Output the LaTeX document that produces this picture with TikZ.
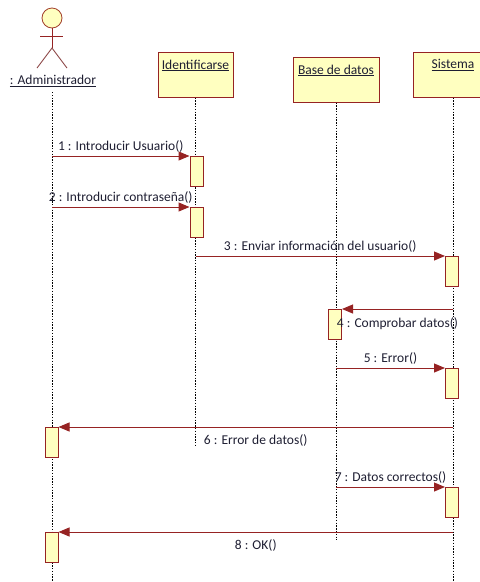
\documentclass[tikz,border=0pt]{standalone}
\usepackage{fontspec}
\setmainfont{Carlito}
\usetikzlibrary{arrows.meta, positioning}
\definecolor{umlfill}{RGB}{255,255,192}
\definecolor{umlred}{RGB}{150,35,35}
\definecolor{umltext}{RGB}{30,30,50}
\tikzset{
	objbox/.style={rectangle, draw=umlred, fill=umlfill, line width=1pt, minimum height=45pt},
	objlabel/.style={anchor=north, inner sep=1pt, text=umltext, font=\fontsize{13.5}{15}\selectfont},
	actbox/.style={rectangle, draw=umlred, fill=umlfill, line width=1pt, minimum width=13pt, minimum height=30pt, anchor=north},
	lifeline/.style={draw=black, line width=1pt, dash pattern=on 1.4pt off 1.4pt},
	msg/.style={draw=umlred, line width=1pt, -{Triangle[length=11pt,width=9pt]}},
	msglabel/.style={inner sep=1pt, text=umltext, font=\fontsize{13.5}{15}\selectfont}
}
\begin{document}
\begin{tikzpicture}[x=1pt, y=-1pt]
		\useasboundingbox (0,0) rectangle (480,582);
		
		%Actor
		\node[circle, draw=umlred!70!brown, fill=umlfill, line width=0.8pt, minimum size=20pt, inner sep=0pt] at (52,18) (head) {};
		\coordinate (hip) at (52,48);
		\coordinate (armL) at (40,36);
		\coordinate (armR) at (63,36);
		\coordinate (legL) at (37,68);
		\coordinate (legR) at (67,68);
		\draw[umlred, line width=0.9pt] (head.south) -- (hip);
		\draw[umlred, line width=0.9pt] (armL) -- (armR);
		\draw[umlred!60!gray, line width=0.9pt] (legL) -- (hip) -- (legR);
		\node[objlabel, anchor=center] at (53,81) (adm) {\underline{: Administrador}};
		
		%Objects
		\node[objbox, minimum width=75pt] at (195.5,74.5) (ident) {};
		\node[objbox, minimum width=86pt] at (336,79.5) (bd) {};
		\node[objbox, minimum width=80pt] at (453,74.5) (sis) {};
		\node[objlabel, below=7pt of ident.north] (identT) {\underline{Identificarse}};
		\node[objlabel, below=7pt of bd.north] (bdT) {\underline{Base de datos}};
		\node[objlabel, below=7pt of sis.north] (sisT) {\underline{Sistema}};
		
		%Lifelines
		\coordinate (admL) at (52,92);
		\coordinate (admE) at (52,582);
		\coordinate (identE) at (195.5,445);
		\coordinate (bdE) at (336,540);
		\coordinate (sisE) at (453,582);
		\draw[lifeline] (admL) -- (admE);
		\draw[lifeline] (ident.south) -- (identE);
		\draw[lifeline] (bd.south) -- (bdE);
		\draw[lifeline] (sis.south) -- (sisE);
		
		%Activations
		\node[actbox] at (196.5,156) (a1) {};
		\node[actbox] at (196.5,207) (a2) {};
		\node[actbox] at (452,256) (a3) {};
		\node[actbox] at (335,309) (a4) {};
		\node[actbox] at (452,368) (a5) {};
		\node[actbox] at (51.5,427) (a6) {};
		\node[actbox] at (452,487) (a7) {};
		\node[actbox] at (51.5,532) (a8) {};
		
		%Messages
		\draw[msg] (admL |- a1.north) -- (a1.north west) node[msglabel, midway, above=2pt] {1 : Introducir Usuario()};
		\draw[msg] (admL |- a2.north) -- (a2.north west) node[msglabel, midway, above=2pt] {2 : Introducir contraseña()};
		\draw[msg] (ident.south |- a3.north) -- (a3.north west) node[msglabel, midway, above=2pt] {3 : Enviar información del usuario()};
		\draw[msg] (sis.south |- a4.north) -- (a4.north east) node[msglabel, midway, below=7pt] {4 : Comprobar datos()};
		\draw[msg] (bd.south |- a5.north) -- (a5.north west) node[msglabel, midway, above=2pt] {5 : Error()};
		\draw[msg] (sis.south |- a6.north) -- (a6.north east) node[msglabel, midway, below=6pt] {6 : Error de datos()};
		\draw[msg] (bd.south |- a7.north) -- (a7.north west) node[msglabel, midway, above=2pt] {7 : Datos correctos()};
		\draw[msg] (sis.south |- a8.north) -- (a8.north east) node[msglabel, midway, below=6pt] {8 : OK()};
	\end{tikzpicture}
\end{document}
